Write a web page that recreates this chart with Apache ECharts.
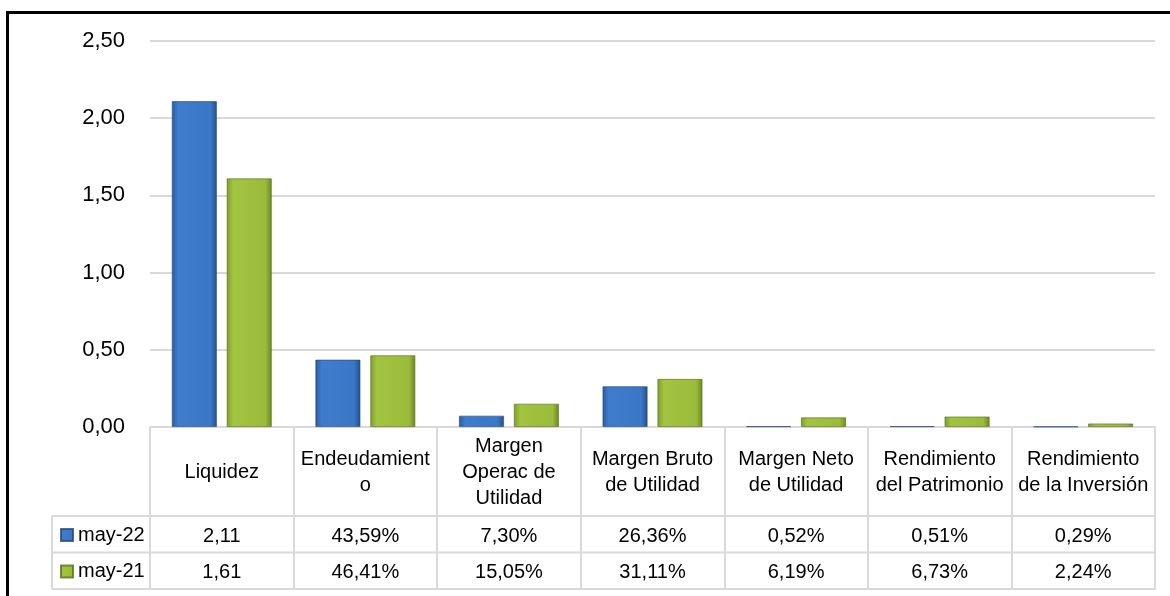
<!DOCTYPE html>
<html>
<head>
<meta charset="utf-8">
<script src="https://cdn.jsdelivr.net/npm/echarts@6/dist/echarts.min.js"></script>
<style>
  html, body { margin: 0; padding: 0; background: #fff; }
  #chart { width: 1170px; height: 596px; }
</style>
</head>
<body>
<div id="chart"></div>
<script>
  // datos
  const categories = ['Liquidez', 'Endeudamient\no', 'Margen\nOperac de\nUtilidad', 'Margen Bruto\nde Utilidad',
    'Margen Neto\nde Utilidad', 'Rendimiento\ndel Patrimonio', 'Rendimiento\nde la Inversión'];
  const isPercent = [false, true, true, true, true, true, true];
  const may22 = [2.11, 0.4359, 0.0730, 0.2636, 0.0052, 0.0051, 0.0029];
  const may21 = [1.61, 0.4641, 0.1505, 0.3111, 0.0619, 0.0673, 0.0224];
  const seriesNames = ['may-22', 'may-21'];
  const yMin = 0, yMax = 2.5, yStep = 0.5;

  // layout
  const gLeft = 150, gRight = 1155, gTop = 41, gBottom = 427;
  const headerH = 89, rowH = 36.5, legendLeft = 52;
  const font = 'Liberation Sans, Arial, sans-serif';

  const fmt = (v, i) => isPercent[i]
    ? (v * 100).toFixed(2).replace('.', ',') + '%'
    : v.toFixed(2).replace('.', ',');

  const blue = new echarts.graphic.LinearGradient(0, 0, 1, 0, [
    { offset: 0, color: '#2a5b9e' }, { offset: 0.14, color: '#3f7dcc' },
    { offset: 0.86, color: '#3a77c6' }, { offset: 1, color: '#26508a' }]);
  const green = new echarts.graphic.LinearGradient(0, 0, 1, 0, [
    { offset: 0, color: '#7f9c2c' }, { offset: 0.14, color: '#a3c440' },
    { offset: 0.86, color: '#9bbb3b' }, { offset: 1, color: '#6c8722' }]);

  const tableLine = { stroke: '#d9d9d9', lineWidth: 2 };
  const rowLines = [gBottom + headerH, gBottom + headerH + rowH, gBottom + headerH + 2 * rowH].map(y => ({
    type: 'line', shape: { x1: legendLeft, y1: y, x2: gRight, y2: y }, style: tableLine, silent: true
  }));

  const valueAxis = (labels, margin) => ({
    type: 'category', position: 'bottom', data: labels,
    axisLine: { show: false }, axisTick: { show: false },
    axisLabel: { interval: 0, margin: margin, verticalAlign: 'middle', fontSize: 20, color: '#000', fontFamily: font }
  });

  const chart = echarts.init(document.getElementById('chart'));
  chart.setOption({
    animation: false,
    grid: { left: gLeft, right: 1170 - gRight, top: gTop, bottom: 596 - gBottom },
    legend: {
      orient: 'vertical', left: 60, top: gBottom + headerH + 9, padding: 0,
      itemWidth: 12, itemHeight: 12, itemGap: 16.5, icon: 'rect',
      textStyle: { fontSize: 20, color: '#000', fontFamily: font },
      data: seriesNames
    },
    xAxis: [
      {
        type: 'category', data: categories,
        axisLine: { lineStyle: { color: '#d9d9d9', width: 2 } },
        axisTick: { show: true, interval: 0, length: headerH + 2 * rowH + 1, lineStyle: { color: '#d9d9d9', width: 2 } },
        axisLabel: { interval: 0, margin: headerH / 2 + 1, verticalAlign: 'middle', lineHeight: 26,
          fontSize: 20, color: '#000', fontFamily: font }
      },
      valueAxis(may22.map(fmt), headerH + rowH / 2 + 2),
      valueAxis(may21.map(fmt), headerH + rowH * 1.5 + 2)
    ],
    yAxis: {
      type: 'value', min: yMin, max: yMax, interval: yStep,
      axisLine: { show: false }, axisTick: { show: false },
      splitLine: { lineStyle: { color: '#d9d9d9', width: 2 } },
      axisLabel: { margin: 25, fontSize: 22, color: '#000', fontFamily: font,
        formatter: v => v.toFixed(2).replace('.', ',') }
    },
    series: [
      { name: seriesNames[0], type: 'bar', data: may22, barWidth: 45, barGap: '22%',
        itemStyle: { color: blue, borderColor: 'rgba(38,72,122,0.8)', borderWidth: 0.8 } },
      { name: seriesNames[1], type: 'bar', data: may21, barWidth: 45,
        itemStyle: { color: green, borderColor: 'rgba(88,112,28,0.8)', borderWidth: 0.8 } }
    ],
    graphic: [
      { type: 'rect', shape: { x: 7.5, y: 12.5, width: 1200, height: 640 },
        style: { fill: 'none', stroke: '#000', lineWidth: 3 }, silent: true },
      { type: 'line', shape: { x1: legendLeft, y1: gBottom + headerH, x2: legendLeft, y2: gBottom + headerH + 2 * rowH },
        style: tableLine, silent: true }
    ].concat(rowLines)
  });
</script>
</body>
</html>
